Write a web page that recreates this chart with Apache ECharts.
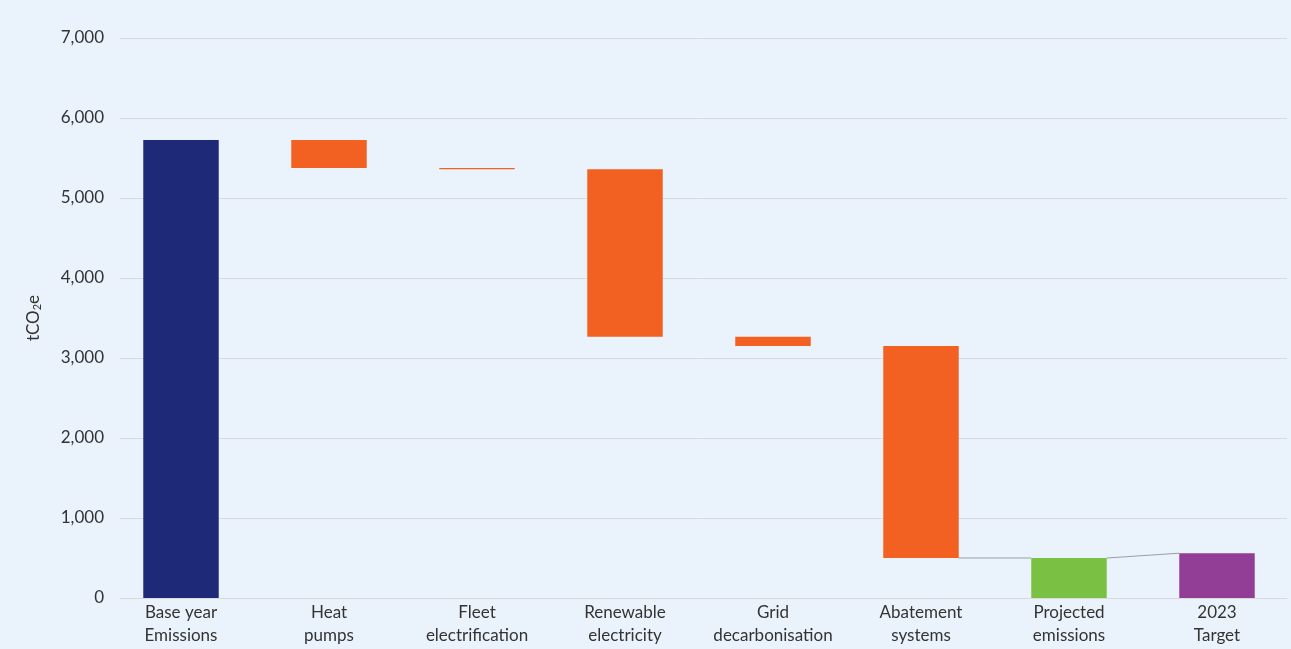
<!DOCTYPE html>
<html>
<head>
<meta charset="utf-8">
<script src="https://cdn.jsdelivr.net/npm/echarts@6/dist/echarts.min.js"></script>
<style>
html,body{margin:0;padding:0;background:#EAF3FB;}
#c{width:1291px;height:649px;}
</style>
</head>
<body>
<div id="c"></div>
<script>
var categories = ['Base year\nEmissions','Heat\npumps','Fleet\nelectrification','Renewable\nelectricity','Grid\ndecarbonisation','Abatement\nsystems','Projected\nemissions','2023\nTarget'];
var kinds = ['total','down','down','down','down','down','total','total'];
var values = [5725, 350, 15, 2095, 115, 2650, 500, 560];
var colors = ['#1E2A78','#F26122','#F26122','#F26122','#F26122','#F26122','#7AC143','#923E97'];
var yTicks = {min:0, max:7000, interval:1000};

var baseData = [], barData = [], levels = [];
var running = 0;
for (var i=0;i<values.length;i++){
  if (kinds[i]==='total'){
    baseData.push(0);
    barData.push({value: values[i], itemStyle:{color: colors[i]}});
    running = values[i];
    levels.push({start: values[i], end: values[i]});
  } else {
    var top = running, bottom = running - values[i];
    baseData.push(bottom);
    barData.push({value: values[i], itemStyle:{color: colors[i]}});
    running = bottom;
    levels.push({start: top, end: bottom});
  }
}
var barRatio = 0.51;
var half = barRatio/2;
var lineColor = '#97A0A8';

function baseOption(){
  return {
    backgroundColor:'#EAF3FB',
    animation:false,
    grid:[
      {left:120, right:4, top:38, bottom:51},
      {left:107, right:-11, top:38, bottom:51}
    ],
    xAxis:[
      {gridIndex:0, type:'category', data:categories, axisLabel:{show:false}, axisTick:{show:false},
       axisLine:{show:true, lineStyle:{color:'#D9D9D9', width:1}}},
      {gridIndex:1, type:'category', data:categories, axisTick:{show:false}, axisLine:{show:false},
       axisLabel:{color:'#333', fontSize:17, lineHeight:23, margin:3, interval:0, fontFamily:'Lato'}}
    ],
    yAxis:[
      {gridIndex:0, type:'value', min:yTicks.min, max:yTicks.max, interval:yTicks.interval,
       axisLabel:{color:'#333', fontSize:17, margin:16, fontFamily:'Lato', formatter:function(v){return String(v).replace(/\B(?=(\d{3})+(?!\d))/g, ',');}},
       splitLine:{lineStyle:{color:'#D9D9D9', width:1}},
       axisLine:{show:false}, axisTick:{show:false},
       name:'tCO{sub|2}e', nameLocation:'middle', nameGap:77, nameRotate:90,
       nameTextStyle:{color:'#333', fontSize:17, fontFamily:'Lato', rich:{sub:{fontSize:11, color:'#333', fontFamily:'Lato', padding:[8,0,0,0]}}}},
      {gridIndex:1, type:'value', min:yTicks.min, max:yTicks.max, interval:yTicks.interval, show:false}
    ],
    series:[
      {type:'bar', xAxisIndex:1, yAxisIndex:1, stack:'w', data:baseData, barWidth:(barRatio*100)+'%',
       itemStyle:{color:'rgba(0,0,0,0)'}, silent:true},
      {type:'bar', xAxisIndex:1, yAxisIndex:1, stack:'w', data:barData, barWidth:(barRatio*100)+'%'}
    ]
  };
}

var el = document.getElementById('c');
var chart = echarts.init(el);
chart.setOption(baseOption());

// connectors between bar edges, positioned through the chart's own axis scales
function connectorElements(){
  var g = [];
  for (var j=0;j<values.length-1;j++){
    var p1 = chart.convertToPixel({xAxisIndex:1, yAxisIndex:1}, [j, levels[j].end]);
    var p2 = chart.convertToPixel({xAxisIndex:1, yAxisIndex:1}, [j+1, levels[j+1].start]);
    var hw = (p2[0]-p1[0]) * half;
    g.push({type:'line', id:'conn'+j, shape:{x1:p1[0]+hw, y1:p1[1], x2:p2[0]-hw, y2:p2[1]},
            style:{stroke:lineColor, lineWidth:1}});
  }
  return g;
}
try {
  chart.setOption({graphic:{elements:connectorElements()}});
} catch(e){
  try { chart.dispose(); } catch(e2){}
  chart = echarts.init(el);
  chart.setOption(baseOption());
}
</script>
</body>
</html>
